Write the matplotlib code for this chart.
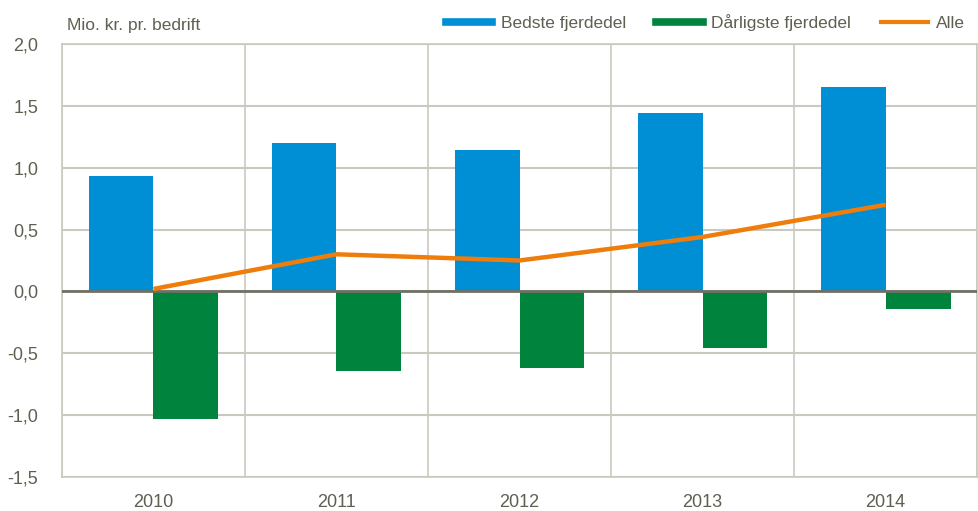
import numpy as np
import matplotlib.pyplot as plt
from matplotlib.lines import Line2D

plt.rcParams['font.family'] = ['Liberation Sans Narrow', 'Liberation Sans', 'DejaVu Sans']

years = ['2010', '2011', '2012', '2013', '2014']
bedste = [0.93, 1.20, 1.14, 1.44, 1.65]
daarligste = [-1.03, -0.64, -0.62, -0.46, -0.14]
alle = [0.02, 0.30, 0.25, 0.44, 0.70]

blue = '#008fd5'
green = '#00843d'
orange = '#ef7d0b'
txt = '#5f5f52'
grid = '#c9c9bf'

fig = plt.figure(figsize=(9.79, 5.11), dpi=100)
ax = fig.add_axes([0.0633, 0.0665, 0.9347, 0.8475])

x = np.arange(len(years))
w = 0.355
ax.bar(x - w/2, bedste, w, color=blue, zorder=3)
ax.bar(x + w/2, daarligste, w, color=green, zorder=3)
ax.plot(x, alle, color=orange, lw=3.2, zorder=6, solid_capstyle='butt')

ax.set_xlim(-0.5, len(years) - 0.5)
ax.set_ylim(-1.5, 2.0)
yt = np.arange(-1.5, 2.01, 0.5)
ax.set_yticks(yt)
ax.set_yticklabels([f'{v:.1f}'.replace('.', ',') for v in yt])
ax.set_xticks(x)
ax.set_xticklabels(years)
ax.set_xticks(np.arange(-0.5, len(years)), minor=True)

ax.grid(axis='y', which='major', color=grid, lw=1.5, zorder=0)
ax.grid(axis='x', which='minor', color=grid, lw=1.2, zorder=0)
ax.axhline(0, color='#707065', lw=2, zorder=5)
for s in ax.spines.values():
    s.set_color(grid)
    s.set_linewidth(1.2)
ax.tick_params(which='both', length=0, labelsize=13, colors=txt, pad=12)
ax.tick_params(axis='y', pad=17)

fig.text(0.068, 0.951, 'Mio. kr. pr. bedrift', fontsize=12.5, color=txt, va='center')

handles = [Line2D([], [], color=blue, lw=5.5),
           Line2D([], [], color=green, lw=5.5),
           Line2D([], [], color=orange, lw=3)]
leg = fig.legend(handles, ['Bedste fjerdedel', 'Dårligste fjerdedel', 'Alle'],
                 loc='center right', bbox_to_anchor=(1.002, 0.955), ncol=3,
                 frameon=False, fontsize=12.5, handlelength=2.7, handletextpad=0.5,
                 columnspacing=1.7)
for t in leg.get_texts():
    t.set_color(txt)

fig.savefig('out.png', dpi=100)
